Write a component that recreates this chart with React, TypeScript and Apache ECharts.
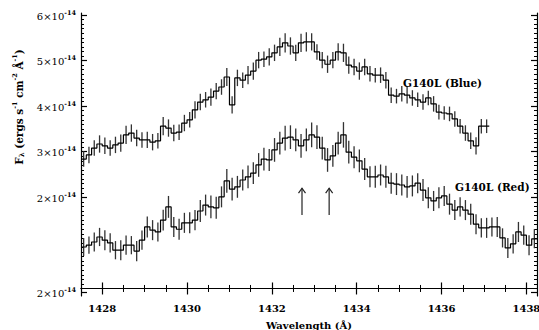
import React, { useEffect, useRef } from "react";
import * as echarts from "echarts";

// Spectra: flux in units of 1e-14 ergs s^-1 cm^-2 Å^-1, bins of BIN_WIDTH Å
const BIN_WIDTH = 0.125;
const BLUE_START = 1427.5;
const RED_START = 1427.5;

const blueFlux = [
  2.84, 2.93, 3.08, 3.17, 3.13, 3.08, 3.15, 3.19, 3.37, 3.41,
  3.30, 3.26, 3.26, 3.21, 3.24, 3.56, 3.52, 3.41, 3.43, 3.63,
  3.70, 3.92, 4.09, 4.14, 4.20, 4.33, 4.42, 4.64, 4.03, 4.62,
  4.57, 4.68, 4.77, 5.01, 5.03, 5.08, 5.17, 5.30, 5.39, 5.32,
  5.17, 5.39, 5.41, 5.41, 5.19, 5.01, 4.92, 5.01, 5.19, 5.17,
  4.90, 4.86, 4.77, 4.86, 4.71, 4.68, 4.68, 4.57, 4.24, 4.22,
  4.27, 4.24, 4.18, 4.14, 4.09, 4.18, 4.05, 3.87, 3.85, 3.83,
  3.72, 3.56, 3.41, 3.24, 3.13, 3.56, 3.56,
];
const blueErr = [
  0.17, 0.18, 0.17, 0.19, 0.18, 0.17, 0.18, 0.19, 0.20, 0.19,
  0.18, 0.17, 0.18, 0.18, 0.17, 0.20, 0.19, 0.18, 0.17, 0.18,
  0.17, 0.19, 0.18, 0.17, 0.19, 0.18, 0.17, 0.20, 0.19, 0.18,
  0.17, 0.20, 0.19, 0.18, 0.17, 0.19, 0.18, 0.20, 0.21, 0.19,
  0.18, 0.20, 0.21, 0.19, 0.17, 0.18, 0.19, 0.18, 0.19, 0.20,
  0.19, 0.18, 0.19, 0.18, 0.17, 0.16, 0.17, 0.18, 0.17, 0.16,
  0.17, 0.18, 0.17, 0.16, 0.17, 0.16, 0.17, 0.16, 0.15, 0.16,
  0.17, 0.16, 0.17, 0.18, 0.19, 0.16, 0.15,
];
const redFlux = [
  0.91, 0.95, 1.02, 1.13, 1.06, 1.00, 0.84, 0.84, 0.95, 0.95,
  0.82, 1.06, 1.35, 1.28, 1.24, 1.50, 1.79, 1.35, 1.30, 1.44,
  1.44, 1.50, 1.70, 1.83, 1.79, 1.77, 2.01, 2.36, 2.18, 2.23,
  2.38, 2.45, 2.53, 2.71, 2.84, 2.82, 3.04, 3.19, 3.30, 3.32,
  3.26, 3.13, 3.26, 3.37, 3.32, 3.08, 2.82, 2.91, 3.19, 3.37,
  2.99, 2.88, 2.80, 2.62, 2.45, 2.45, 2.49, 2.45, 2.31, 2.29,
  2.27, 2.23, 2.25, 2.31, 2.16, 1.99, 1.92, 1.99, 2.03, 1.85,
  1.72, 1.79, 1.72, 1.63, 1.41, 1.33, 1.33, 1.35, 1.35, 1.11,
  0.89, 0.98, 1.24, 1.17, 0.95, 1.09,
];
const redErr = [
  0.20, 0.19, 0.21, 0.20, 0.22, 0.21, 0.20, 0.22, 0.21, 0.20,
  0.22, 0.21, 0.23, 0.22, 0.21, 0.23, 0.24, 0.22, 0.23, 0.22,
  0.23, 0.22, 0.24, 0.23, 0.25, 0.24, 0.23, 0.26, 0.25, 0.24,
  0.23, 0.25, 0.24, 0.26, 0.25, 0.24, 0.26, 0.25, 0.27, 0.26,
  0.25, 0.26, 0.25, 0.27, 0.26, 0.25, 0.26, 0.24, 0.25, 0.28,
  0.25, 0.24, 0.25, 0.24, 0.23, 0.24, 0.23, 0.24, 0.23, 0.24,
  0.23, 0.24, 0.23, 0.22, 0.24, 0.23, 0.22, 0.23, 0.22, 0.23,
  0.22, 0.21, 0.22, 0.23, 0.22, 0.21, 0.22, 0.21, 0.22, 0.21,
  0.22, 0.21, 0.22, 0.21, 0.22, 0.21,
];

const xMajorTicks = [1428, 1430, 1432, 1434, 1436, 1438];
const yTickValues = [-0.08, 2, 3, 4, 5, 6];
const yTickMantissas = ["2", "2", "3", "4", "5", "6"];
const arrowWavelengths = [1432.71, 1433.35];
const arrowFromTo = [1.61, 2.2];
const blueLabel = "G140L (Blue)";
const redLabel = "G140L (Red)";

const X_MIN = 1427.5;
const X_MAX = 1438.25;
const Y_MIN = -0.165;
const Y_MAX = 6.044;

const FONT = "DejaVu Serif";

function stepPoints(start: number, vals: number[]) {
  const pts = vals.map((v, i) => [start + i * BIN_WIDTH, v]);
  pts.push([start + vals.length * BIN_WIDTH, vals[vals.length - 1]]);
  return pts;
}
function errPoints(start: number, vals: number[], errs: number[]) {
  return vals.map((v, i) => [start + (i + 0.5) * BIN_WIDTH, v - errs[i], v + errs[i]]);
}

const xMinor: number[] = [];
for (let k = 0; k <= 21; k++) xMinor.push(X_MIN + k * 0.5);
const yMinor: number[] = [];
for (let k = 0; k <= 60; k++) yMinor.push(k / 10);

export default function App() {
  const ref = useRef<HTMLDivElement>(null);
  useEffect(() => {
    if (!ref.current) return;
    const chart = echarts.init(ref.current, null, { renderer: "svg" });
    const axisLine = { show: true, lineStyle: { color: "#000", width: 1.2 } };
    const baseX = { type: "value", min: X_MIN, max: X_MAX, splitLine: { show: false } };
    const baseY = { type: "value", min: Y_MIN, max: Y_MAX, splitLine: { show: false } };
    const errRender = (params: any, api: any) => {
      const lo = api.coord([api.value(0), api.value(1)]);
      const hi = api.coord([api.value(0), api.value(2)]);
      return {
        type: "line",
        shape: { x1: lo[0], y1: lo[1], x2: hi[0], y2: hi[1] },
        style: { stroke: "#333", lineWidth: 1.3 },
      };
    };
    const arrowRender = (params: any, api: any) => {
      const b = api.coord([api.value(0), api.value(1)]);
      const t = api.coord([api.value(0), api.value(2)]);
      return {
        type: "group",
        children: [
          { type: "line", shape: { x1: b[0], y1: b[1], x2: t[0], y2: t[1] }, style: { stroke: "#222", lineWidth: 1.2 } },
          {
            type: "polyline",
            shape: { points: [[t[0] - 3.5, t[1] + 5], [t[0], t[1]], [t[0] + 3.5, t[1] + 5]] },
            style: { stroke: "#222", lineWidth: 1.2, fill: "none" },
          },
        ],
      };
    };
    const option: any = {
      animation: false,
      backgroundColor: "#fff",
      grid: { left: 81, right: 2, top: 13, bottom: 34, containLabel: false, outerBoundsMode: "none" },
      xAxis: [
        {
          ...baseX,
          position: "bottom",
          axisLine,
          axisTick: { show: true, inside: true, length: 6, customValues: xMajorTicks, lineStyle: { color: "#000", width: 1.2 } },
          axisLabel: {
            customValues: xMajorTicks,
            formatter: (v: number) => String(Math.round(v)),
            color: "#000", fontFamily: FONT, fontWeight: "bold", fontSize: 10, margin: 7,
            hideOverlap: false,
          },
          name: "Wavelength (Å)",
          nameLocation: "middle",
          nameGap: 24,
          nameTextStyle: { color: "#000", fontFamily: FONT, fontWeight: "bold", fontSize: 10 },
        },
        {
          ...baseX, position: "bottom", axisLine: { show: false },
          axisTick: { show: true, inside: true, length: 3.5, customValues: xMinor, lineStyle: { color: "#000", width: 1 } },
          axisLabel: { show: false },
        },
        {
          ...baseX, position: "top", axisLine,
          axisTick: { show: true, inside: true, length: 6, customValues: xMajorTicks, lineStyle: { color: "#000", width: 1.2 } },
          axisLabel: { show: false },
        },
        {
          ...baseX, position: "top", axisLine: { show: false },
          axisTick: { show: true, inside: true, length: 3.5, customValues: xMinor, lineStyle: { color: "#000", width: 1 } },
          axisLabel: { show: false },
        },
      ],
      yAxis: [
        {
          ...baseY, position: "left", axisLine,
          axisTick: { show: true, inside: true, length: 6, customValues: yTickValues, lineStyle: { color: "#000", width: 1.2 } },
          axisLabel: {
            customValues: yTickValues,
            formatter: (v: number) => {
              let idx = 0;
              let best = Infinity;
              yTickValues.forEach((t, i) => {
                const d = Math.abs(t - v);
                if (d < best) { best = d; idx = i; }
              });
              return `{m|${yTickMantissas[idx]}×10}{s|-14}`;
            },
            margin: 5,
            rich: {
              m: { color: "#000", fontFamily: FONT, fontSize: 10, fontWeight: "normal", verticalAlign: "bottom" },
              s: { color: "#000", fontFamily: FONT, fontSize: 6.5, fontWeight: "bold", verticalAlign: "top", padding: [0, 0, 5, 0] },
            },
          },
        },
        {
          ...baseY, position: "left", axisLine: { show: false },
          axisTick: { show: true, inside: true, length: 3, customValues: yMinor, lineStyle: { color: "#000", width: 1 } },
          axisLabel: { show: false },
        },
        {
          ...baseY, position: "right", axisLine,
          axisTick: { show: true, inside: true, length: 6, customValues: yTickValues, lineStyle: { color: "#000", width: 1.2 } },
          axisLabel: { show: false },
        },
        {
          ...baseY, position: "right", axisLine: { show: false },
          axisTick: { show: true, inside: true, length: 3, customValues: yMinor, lineStyle: { color: "#000", width: 1 } },
          axisLabel: { show: false },
        },
      ],
      series: [
        {
          type: "custom", name: "blueErr", xAxisIndex: 0, yAxisIndex: 0,
          data: errPoints(BLUE_START, blueFlux, blueErr), encode: { x: 0, y: [1, 2] },
          renderItem: errRender, silent: true,
        },
        {
          type: "custom", name: "redErr", xAxisIndex: 0, yAxisIndex: 0, clip: true,
          data: errPoints(RED_START, redFlux, redErr), encode: { x: 0, y: [1, 2] },
          renderItem: errRender, silent: true,
        },
        {
          type: "line", name: blueLabel, step: "end", xAxisIndex: 0, yAxisIndex: 0,
          data: stepPoints(BLUE_START, blueFlux), symbol: "none",
          lineStyle: { color: "#000", width: 1.2 }, silent: true,
        },
        {
          type: "line", name: redLabel, step: "end", xAxisIndex: 0, yAxisIndex: 0,
          data: stepPoints(RED_START, redFlux), symbol: "none",
          lineStyle: { color: "#000", width: 1.2 }, silent: true,
        },
        {
          type: "custom", name: "arrows", xAxisIndex: 0, yAxisIndex: 0,
          data: arrowWavelengths.map((w) => [w, arrowFromTo[0], arrowFromTo[1]]),
          encode: { x: 0, y: [1, 2] }, renderItem: arrowRender, silent: true,
        },
      ],
      graphic: [
        {
          type: "text", x: 403, y: 83,
          style: { text: blueLabel, fill: "#000", font: `bold 10.5px '${FONT}'`, verticalAlign: "middle", align: "left" },
        },
        {
          type: "text", x: 455, y: 187,
          style: { text: redLabel, fill: "#000", font: `bold 10.5px '${FONT}'`, verticalAlign: "middle", align: "left" },
        },
        {
          type: "text", x: 18, y: 107, rotation: Math.PI / 2,
          style: {
            text: "{b|F}{sub|λ}{b| (ergs s}{sup|-1}{b| cm}{sup|-2}{b| Å}{sup|-1}{b|)}",
            align: "center", verticalAlign: "middle",
            rich: {
              b: { fill: "#000", fontFamily: FONT, fontWeight: "bold", fontSize: 10.5, verticalAlign: "bottom" },
              sub: { fill: "#000", fontFamily: FONT, fontWeight: "bold", fontSize: 7, verticalAlign: "bottom", padding: [4, 0, 0, 0] },
              sup: { fill: "#000", fontFamily: FONT, fontWeight: "bold", fontSize: 6.5, verticalAlign: "top", padding: [0, 0, 6, 0] },
            },
          },
        },
      ],
    };
    chart.setOption(option);
    return () => chart.dispose();
  }, []);
  return <div ref={ref} style={{ position: "fixed", left: 0, top: 0, width: 539, height: 330 }} />;
}
